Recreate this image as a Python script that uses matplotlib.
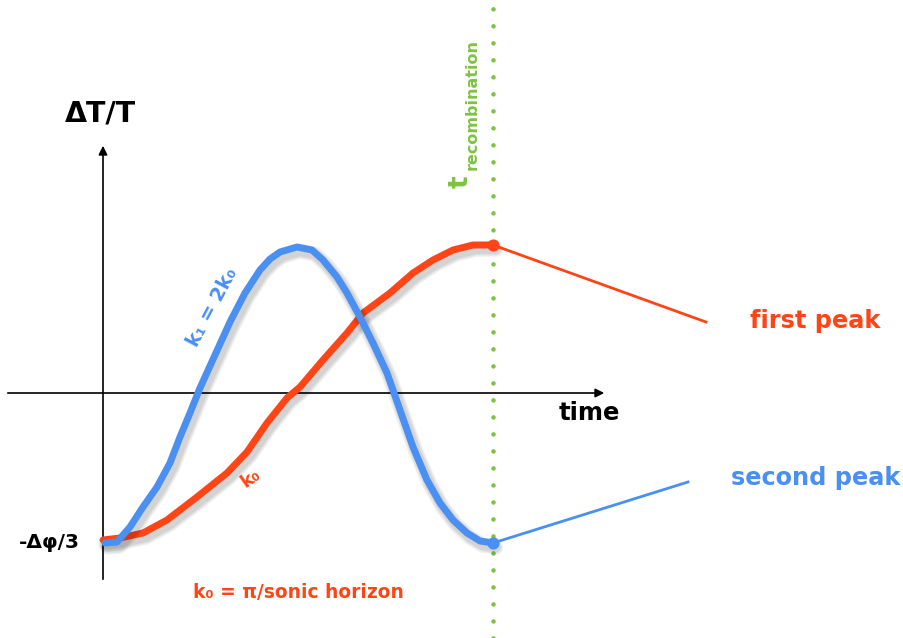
import matplotlib.pyplot as plt
import matplotlib.patheffects as pe

# schematic, in pixel units (x right, y down)
red_x = [103, 120, 143, 167, 197, 227, 247, 267, 287, 300, 323, 347, 363, 390, 413, 433, 453, 473, 493]
red_y = [540, 538, 533, 520, 497, 473, 452, 423, 398, 387, 360, 333, 313, 293, 273, 260, 250, 245, 245]
blue_x = [105, 117, 130, 143, 157, 170, 180, 190, 200, 215, 230, 245, 260, 270, 280, 297, 312, 323,
          337, 347, 360, 373, 387, 400, 413, 427, 440, 453, 467, 480, 493]
blue_y = [543, 542, 527, 507, 487, 463, 437, 413, 388, 355, 322, 293, 270, 259, 252, 247, 250, 260,
          277, 293, 317, 343, 373, 410, 447, 480, 503, 520, 533, 541, 543]

origin = (103, 393)
t_rec = 493
first_peak = (493, 245)
second_peak = (493, 543)
first_label_end = (706, 322)
second_label_end = (688, 482)

RED = '#ff4516'
BLUE = '#4a8ff2'
GREEN = '#7fc242'
FONT = ['DejaVu Sans']

fig = plt.figure(figsize=(9.04, 6.38), dpi=100)
ax = fig.add_axes([0, 0, 1, 1])
ax.set_xlim(0, 904)
ax.set_ylim(638, 0)
ax.axis('off')

# axes arrows
ax.annotate('', xy=(607, origin[1]), xytext=(5, origin[1]),
            arrowprops=dict(arrowstyle='-|>', color='black', lw=1.2, mutation_scale=13))
ax.annotate('', xy=(origin[0], 143), xytext=(origin[0], 582),
            arrowprops=dict(arrowstyle='-|>', color='black', lw=1.2, mutation_scale=13))

# recombination time
ax.axvline(t_rec, color=GREEN, lw=3.3, linestyle=(0, (0.01, 3.7)),
           dash_capstyle='round', zorder=1)

# soft drop shadow: a few wide faint layers
shadow = [pe.SimpleLineShadow(offset=(2, -3), shadow_color='black', alpha=0.06, linewidth=w)
          for w in (11, 9, 7)] + [pe.Normal()]
ax.plot(red_x, red_y, color=RED, lw=5, solid_capstyle='round', solid_joinstyle='round',
        path_effects=shadow, zorder=3)
ax.plot(blue_x, blue_y, color=BLUE, lw=5, solid_capstyle='round', solid_joinstyle='round',
        path_effects=shadow, zorder=4)

# leader lines to the peak labels
ax.plot([first_peak[0], first_label_end[0]], [first_peak[1], first_label_end[1]], color=RED, lw=2, zorder=5)
ax.plot([second_peak[0], second_label_end[0]], [second_peak[1], second_label_end[1]], color=BLUE, lw=2, zorder=5)
ax.scatter([first_peak[0]], [first_peak[1]], s=60, color=RED, zorder=6)
ax.scatter([second_peak[0]], [second_peak[1]], s=60, color=BLUE, zorder=6)

bold = dict(fontweight='bold', family=FONT)
ax.text(100, 113, 'ΔT/T', fontsize=20.5, ha='center', va='center', **bold)
ax.text(589, 413, 'time', fontsize=17.5, ha='center', va='center', **bold)
ax.text(49, 543, '-Δφ/3', fontsize=14.5, ha='center', va='center', **bold)
ax.text(815, 321, 'first peak', fontsize=17.3, ha='center', va='center', color=RED, **bold)
ax.text(816, 478, 'second peak', fontsize=17.3, ha='center', va='center', color=BLUE, **bold)
ax.text(298, 592, 'k₀ = π/sonic horizon', fontsize=13.4, ha='center', va='center', color=RED, **bold)
ax.text(251, 478, 'k₀', fontsize=13, ha='center', va='center', rotation=35, color=RED, **bold)
ax.text(212, 307, 'k₁ = 2k₀', fontsize=14, ha='center', va='center', rotation=62, color=BLUE, **bold)
ax.text(461, 182, 't', fontsize=19, ha='center', va='center', rotation=90, color=GREEN, **bold)
ax.text(472, 105, 'recombination', fontsize=11.5, ha='center', va='center', rotation=90, color=GREEN, **bold)

fig.savefig('out.png', dpi=100)
